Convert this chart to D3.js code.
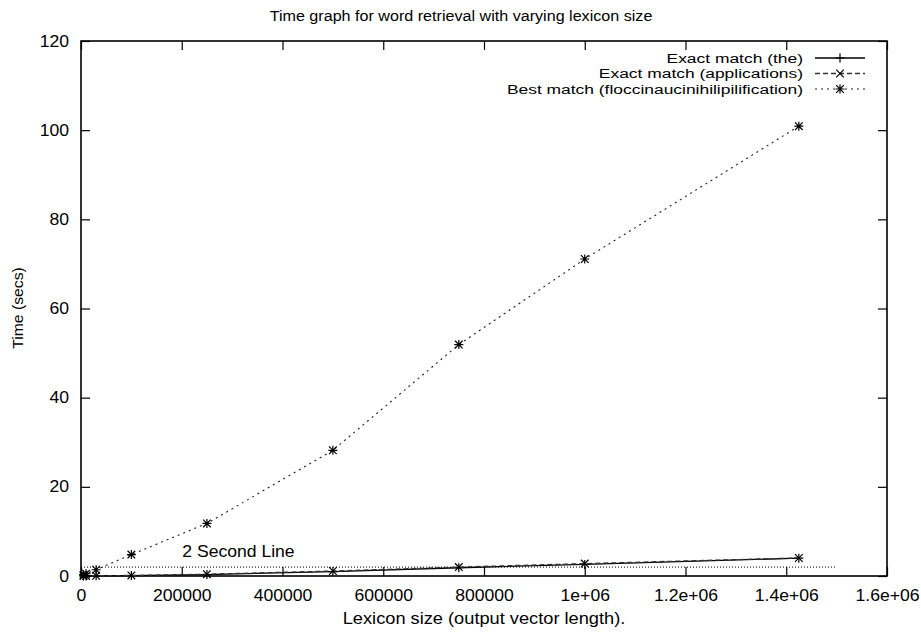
<!DOCTYPE html>
<html><head><meta charset="utf-8">
<script src="https://cdn.jsdelivr.net/npm/d3@7"></script>
<style>
body{margin:0;background:#fff;}
text{font-family:"Liberation Sans",Arial,sans-serif;fill:#000;}
</style></head>
<body><svg id="c" width="921" height="633"></svg>
<script>
const title = "Time graph for word retrieval with varying lexicon size";
const xLabel = "Lexicon size (output vector length).";
const yLabel = "Time (secs)";
const seriesNames = ["Exact match (the)", "Exact match (applications)", "Best match (floccinaucinihilipilification)"];
const lexiconSizes = [5000, 10000, 30000, 100000, 250000, 500000, 750000, 1000000, 1425000];
const timeThe = [0.01, 0.02, 0.05, 0.1, 0.33, 1.0, 1.85, 2.6, 4.0];
const timeApplications = [0.01, 0.02, 0.06, 0.12, 0.4, 1.12, 2.0, 2.78, 4.04];
const timeBest = [0.3, 0.5, 1.4, 4.8, 11.8, 28.2, 51.9, 71.1, 100.9];
const xTicks = [0, 200000, 400000, 600000, 800000, 1000000, 1200000, 1400000, 1600000];
const xTickLabels = ["0", "200000", "400000", "600000", "800000", "1e+06", "1.2e+06", "1.4e+06", "1.6e+06"];
const yTicks = [0, 20, 40, 60, 80, 100, 120];
const refLineLabel = "2 Second Line";
const refLineValue = 2;
const refLineEnd = 1500000;

const svg = d3.select("#c");
const L = 81, R = 887, T = 41, B = 576;
const x = d3.scaleLinear().domain([0, 1600000]).range([L, R]);
const y = d3.scaleLinear().domain([0, 120]).range([B, T]);
const FS = 16;
const SX = 1.1;

function stext(g, tx, ty, str, anchor, fs, sx) {
  return g.append("text").attr("transform", `translate(${tx},${ty}) scale(${sx || SX},1)`)
    .attr("text-anchor", anchor || "start").style("font-size", (fs || FS) + "px").text(str);
}

// title
stext(svg, 461, 21, title, "middle", 15, 1.075);
// axis labels
stext(svg, 484, 624, xLabel, "middle", 16, 1.14);
svg.append("text").attr("transform", `translate(23,308) rotate(-90) scale(1.05,1.0)`)
  .attr("text-anchor", "middle").style("font-size", "15px").text(yLabel);

// axes (ticks inward, mirrored)
const tl = 9;
const gx = svg.append("g").attr("transform", `translate(0,${B})`)
  .call(d3.axisBottom(x).tickValues(xTicks).tickSize(-tl).tickFormat((d, i) => xTickLabels[i]));
const gx2 = svg.append("g").attr("transform", `translate(0,${T})`)
  .call(d3.axisTop(x).tickValues(xTicks).tickSize(-tl).tickFormat(""));
const gy = svg.append("g").attr("transform", `translate(${L},0)`)
  .call(d3.axisLeft(y).tickValues(yTicks).tickSize(-tl));
const gy2 = svg.append("g").attr("transform", `translate(${R},0)`)
  .call(d3.axisRight(y).tickValues(yTicks).tickSize(-tl).tickFormat(""));
[gx, gx2, gy, gy2].forEach(g => {
  g.select(".domain").remove();
  g.selectAll(".tick line").attr("stroke", "#000").attr("stroke-width", 1.2);
  g.selectAll(".tick text").style("font-size", FS + "px").attr("fill", "#000");
});
gx.selectAll(".tick text").attr("y", 14).attr("dy", "0.71em")
  .attr("transform", `scale(${SX},1)`);
gy.selectAll(".tick text").attr("x", -10).attr("text-anchor", "end")
  .attr("transform", `translate(-1,0) scale(${SX},1)`);

svg.append("rect").attr("x", L).attr("y", T).attr("width", R - L).attr("height", B - T)
  .attr("fill", "none").attr("stroke", "#000").attr("stroke-width", 1.6);

// 2 second line
svg.append("line").attr("x1", x(0)).attr("x2", x(refLineEnd)).attr("y1", y(refLineValue)).attr("y2", y(refLineValue))
  .attr("stroke", "#000").attr("stroke-width", 1).attr("stroke-dasharray", "1,2");
stext(svg, x(201000), y(refLineValue) - 10, refLineLabel, "start");

// series
const styles = [
  {dash: null, color: "#000", width: 1.3, mark: "plus"},
  {dash: "5,3", color: "#333", width: 1.3, mark: "cross"},
  {dash: "2,4", color: "#222", width: 1.1, mark: "star"}
];
const data = [timeThe, timeApplications, timeBest];
const line = d3.line().x(d => x(d[0])).y(d => y(d[1]));

function marker(g, cx, cy, type) {
  const s = 4.5;
  const p = d3.path();
  if (type === "plus" || type === "star") { p.moveTo(cx - s, cy); p.lineTo(cx + s, cy); p.moveTo(cx, cy - s); p.lineTo(cx, cy + s); }
  if (type === "cross" || type === "star") { const c = s * 0.85; p.moveTo(cx - c, cy - c); p.lineTo(cx + c, cy + c); p.moveTo(cx - c, cy + c); p.lineTo(cx + c, cy - c); }
  g.append("path").attr("d", p.toString()).attr("stroke", "#000").attr("stroke-width", 1.2).attr("fill", "none");
}

data.forEach((vals, i) => {
  const pts = lexiconSizes.map((xx, j) => [xx, vals[j]]);
  const st = styles[i];
  const g = svg.append("g");
  g.append("path").datum(pts).attr("d", line).attr("fill", "none")
    .attr("stroke", st.color).attr("stroke-width", st.width)
    .attr("stroke-dasharray", st.dash);
  pts.forEach(p => marker(g, x(p[0]), y(p[1]), st.mark));
});

// legend
const legX1 = 815, legX2 = 865, legTextX = 803;
const legY = [58, 73.5, 89];
seriesNames.forEach((name, i) => {
  const st = styles[i];
  stext(svg, legTextX, legY[i] + 4.8, name, "end", 13.5, 1.29);
  svg.append("line").attr("x1", legX1).attr("x2", legX2).attr("y1", legY[i]).attr("y2", legY[i])
    .attr("stroke", st.color).attr("stroke-width", st.width).attr("stroke-dasharray", st.dash);
  marker(svg, (legX1 + legX2) / 2, legY[i], st.mark);
});
</script></body></html>
